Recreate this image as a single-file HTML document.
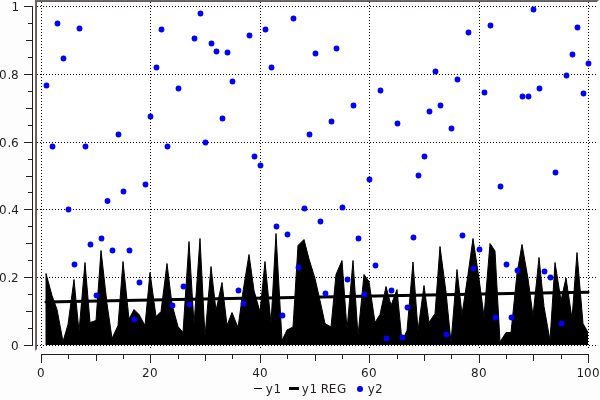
<!DOCTYPE html>
<html><head><meta charset="utf-8"><title>plot</title>
<style>html,body{margin:0;padding:0;background:#fdfdfd;overflow:hidden}svg{display:block}text{font-family:"DejaVu Sans","Liberation Sans",sans-serif;font-size:12px;fill:#221f1d}</style></head><body>
<svg width="600" height="400" viewBox="0 0 600 400">
<rect x="0" y="0" width="600" height="400" fill="#fdfdfd"/>
<rect x="35" y="0" width="563" height="351" fill="#ffffff"/>
<polygon points="35,0 599,0 598,1 36,1 36,350 35,351" fill="#6e6967"/>
<polygon points="36,1 598,1 597,2 37,2 37,349 36,350" fill="#625d5b"/>
<g stroke="#000" stroke-width="1" stroke-dasharray="1 2" shape-rendering="crispEdges">
<line x1="37" y1="345.5" x2="597" y2="345.5"/>
<line x1="37" y1="277.5" x2="597" y2="277.5"/>
<line x1="37" y1="209.5" x2="597" y2="209.5"/>
<line x1="37" y1="142.5" x2="597" y2="142.5"/>
<line x1="37" y1="74.5" x2="597" y2="74.5"/>
<line x1="37" y1="6.5" x2="597" y2="6.5"/>
<line x1="41.5" y1="2" x2="41.5" y2="349"/>
<line x1="150.5" y1="2" x2="150.5" y2="349"/>
<line x1="260.5" y1="2" x2="260.5" y2="349"/>
<line x1="369.5" y1="2" x2="369.5" y2="349"/>
<line x1="479.5" y1="2" x2="479.5" y2="349"/>
<line x1="588.5" y1="2" x2="588.5" y2="349"/>
</g>
<clipPath id="cp"><rect x="37" y="2" width="551" height="343"/></clipPath>
<polygon clip-path="url(#cp)" points="46.00,345.00 46.00,273.50 52.00,295.50 57.00,309.50 63.00,341.50 68.00,324.50 74.00,279.50 79.00,331.50 85.00,262.50 90.00,322.50 96.00,320.50 101.00,250.50 107.00,303.50 112.00,338.50 118.00,325.50 123.00,261.50 129.00,319.00 134.00,309.50 139.00,314.50 145.00,325.50 150.00,272.50 156.00,316.50 161.00,311.50 167.00,263.50 172.00,304.50 178.00,326.50 183.00,332.50 189.00,241.50 194.00,324.50 200.00,238.50 205.00,336.50 211.00,266.50 216.00,310.50 222.00,282.50 227.00,325.50 232.00,312.50 238.00,327.50 243.00,291.50 249.00,254.50 254.00,290.50 260.00,312.00 265.00,261.50 271.00,323.50 276.00,233.50 282.00,340.50 287.00,330.00 293.00,327.00 298.00,245.50 304.00,239.50 309.00,259.00 315.00,278.50 320.00,300.50 325.00,323.50 331.00,327.00 336.00,274.50 342.00,260.50 347.00,329.50 353.00,260.50 358.00,335.50 364.00,274.50 369.00,281.50 375.00,322.50 380.00,314.50 386.00,286.50 391.00,305.50 397.00,289.50 402.00,341.50 407.00,330.50 413.00,262.00 418.00,330.50 424.00,285.50 429.00,322.50 435.00,313.50 440.00,246.50 446.00,292.00 451.00,342.50 457.00,269.50 462.00,314.50 468.00,274.50 473.00,238.50 479.00,278.50 484.00,316.50 490.00,243.50 495.00,251.00 500.00,342.00 506.00,332.50 511.00,332.50 517.00,273.50 522.00,244.50 528.00,278.50 533.00,316.00 539.00,257.50 544.00,306.50 550.00,340.50 555.00,262.50 561.00,300.50 566.00,278.00 572.00,318.50 577.00,252.50 583.00,323.50 588.00,332.50 588.00,345.00" fill="#000" stroke="#000" stroke-width="1" stroke-linejoin="bevel"/>
<line x1="46.00" y1="301.90" x2="588.00" y2="292.15" stroke="#000" stroke-width="3" stroke-linecap="round"/>
<g fill="#0000ff">
<circle cx="46.50" cy="85.50" r="2.9"/>
<circle cx="52.50" cy="146.50" r="2.9"/>
<circle cx="57.50" cy="23.50" r="2.9"/>
<circle cx="63.50" cy="58.50" r="2.9"/>
<circle cx="68.50" cy="209.50" r="2.9"/>
<circle cx="74.50" cy="264.50" r="2.9"/>
<circle cx="79.50" cy="28.50" r="2.9"/>
<circle cx="85.50" cy="146.50" r="2.9"/>
<circle cx="90.50" cy="244.50" r="2.9"/>
<circle cx="96.50" cy="295.50" r="2.9"/>
<circle cx="101.50" cy="238.50" r="2.9"/>
<circle cx="107.50" cy="201.00" r="2.9"/>
<circle cx="112.50" cy="250.50" r="2.9"/>
<circle cx="118.50" cy="134.50" r="2.9"/>
<circle cx="123.50" cy="191.50" r="2.9"/>
<circle cx="129.50" cy="250.50" r="2.9"/>
<circle cx="134.50" cy="319.50" r="2.9"/>
<circle cx="139.50" cy="282.50" r="2.9"/>
<circle cx="145.50" cy="184.50" r="2.9"/>
<circle cx="150.50" cy="116.50" r="2.9"/>
<circle cx="156.50" cy="67.50" r="2.9"/>
<circle cx="161.50" cy="29.50" r="2.9"/>
<circle cx="167.50" cy="146.50" r="2.9"/>
<circle cx="172.50" cy="305.50" r="2.9"/>
<circle cx="178.50" cy="88.50" r="2.9"/>
<circle cx="183.50" cy="286.50" r="2.9"/>
<circle cx="189.50" cy="304.50" r="2.9"/>
<circle cx="194.50" cy="38.50" r="2.9"/>
<circle cx="200.50" cy="13.50" r="2.9"/>
<circle cx="205.50" cy="142.50" r="2.9"/>
<circle cx="211.50" cy="43.50" r="2.9"/>
<circle cx="216.50" cy="51.50" r="2.9"/>
<circle cx="222.50" cy="118.50" r="2.9"/>
<circle cx="227.50" cy="52.50" r="2.9"/>
<circle cx="232.50" cy="81.50" r="2.9"/>
<circle cx="238.50" cy="290.50" r="2.9"/>
<circle cx="243.50" cy="303.50" r="2.9"/>
<circle cx="249.50" cy="35.50" r="2.9"/>
<circle cx="254.50" cy="156.50" r="2.9"/>
<circle cx="260.50" cy="165.50" r="2.9"/>
<circle cx="265.50" cy="29.50" r="2.9"/>
<circle cx="271.50" cy="67.50" r="2.9"/>
<circle cx="276.50" cy="226.50" r="2.9"/>
<circle cx="282.50" cy="315.50" r="2.9"/>
<circle cx="287.50" cy="234.50" r="2.9"/>
<circle cx="293.50" cy="18.50" r="2.9"/>
<circle cx="298.50" cy="267.50" r="2.9"/>
<circle cx="304.50" cy="208.50" r="2.9"/>
<circle cx="309.50" cy="134.50" r="2.9"/>
<circle cx="315.50" cy="53.50" r="2.9"/>
<circle cx="320.50" cy="221.50" r="2.9"/>
<circle cx="325.50" cy="293.50" r="2.9"/>
<circle cx="331.50" cy="121.50" r="2.9"/>
<circle cx="336.50" cy="48.50" r="2.9"/>
<circle cx="342.50" cy="207.50" r="2.9"/>
<circle cx="347.50" cy="279.50" r="2.9"/>
<circle cx="353.50" cy="105.50" r="2.9"/>
<circle cx="358.50" cy="238.50" r="2.9"/>
<circle cx="364.50" cy="294.50" r="2.9"/>
<circle cx="369.50" cy="179.50" r="2.9"/>
<circle cx="375.50" cy="265.50" r="2.9"/>
<circle cx="380.50" cy="90.50" r="2.9"/>
<circle cx="386.50" cy="338.50" r="2.9"/>
<circle cx="391.50" cy="290.50" r="2.9"/>
<circle cx="397.50" cy="123.50" r="2.9"/>
<circle cx="402.50" cy="337.50" r="2.9"/>
<circle cx="407.50" cy="307.50" r="2.9"/>
<circle cx="413.50" cy="237.50" r="2.9"/>
<circle cx="418.50" cy="175.50" r="2.9"/>
<circle cx="424.50" cy="156.50" r="2.9"/>
<circle cx="429.50" cy="111.50" r="2.9"/>
<circle cx="435.50" cy="71.50" r="2.9"/>
<circle cx="440.50" cy="105.50" r="2.9"/>
<circle cx="446.50" cy="334.50" r="2.9"/>
<circle cx="451.50" cy="128.50" r="2.9"/>
<circle cx="457.50" cy="79.50" r="2.9"/>
<circle cx="462.50" cy="235.50" r="2.9"/>
<circle cx="468.50" cy="32.50" r="2.9"/>
<circle cx="473.50" cy="268.50" r="2.9"/>
<circle cx="479.50" cy="249.50" r="2.9"/>
<circle cx="484.50" cy="92.50" r="2.9"/>
<circle cx="490.50" cy="25.50" r="2.9"/>
<circle cx="495.50" cy="317.50" r="2.9"/>
<circle cx="500.50" cy="186.50" r="2.9"/>
<circle cx="506.50" cy="264.50" r="2.9"/>
<circle cx="511.50" cy="317.50" r="2.9"/>
<circle cx="517.50" cy="270.50" r="2.9"/>
<circle cx="522.50" cy="96.50" r="2.9"/>
<circle cx="528.50" cy="96.50" r="2.9"/>
<circle cx="533.50" cy="9.50" r="2.9"/>
<circle cx="539.50" cy="88.50" r="2.9"/>
<circle cx="544.50" cy="271.50" r="2.9"/>
<circle cx="550.50" cy="277.50" r="2.9"/>
<circle cx="555.50" cy="172.50" r="2.9"/>
<circle cx="561.50" cy="323.50" r="2.9"/>
<circle cx="566.50" cy="75.50" r="2.9"/>
<circle cx="572.50" cy="54.50" r="2.9"/>
<circle cx="577.50" cy="27.50" r="2.9"/>
<circle cx="583.50" cy="93.50" r="2.9"/>
<circle cx="588.50" cy="63.50" r="2.9"/>
</g>
<g stroke="#221f1d" stroke-width="1" shape-rendering="crispEdges">
<line x1="32.5" y1="6" x2="32.5" y2="346"/>
<line x1="24" y1="345.5" x2="33" y2="345.5"/>
<line x1="28" y1="328.5" x2="33" y2="328.5"/>
<line x1="26" y1="311.5" x2="33" y2="311.5"/>
<line x1="28" y1="294.5" x2="33" y2="294.5"/>
<line x1="24" y1="277.5" x2="33" y2="277.5"/>
<line x1="28" y1="260.5" x2="33" y2="260.5"/>
<line x1="26" y1="243.5" x2="33" y2="243.5"/>
<line x1="28" y1="226.5" x2="33" y2="226.5"/>
<line x1="24" y1="209.5" x2="33" y2="209.5"/>
<line x1="28" y1="192.5" x2="33" y2="192.5"/>
<line x1="26" y1="176.5" x2="33" y2="176.5"/>
<line x1="28" y1="159.5" x2="33" y2="159.5"/>
<line x1="24" y1="142.5" x2="33" y2="142.5"/>
<line x1="28" y1="125.5" x2="33" y2="125.5"/>
<line x1="26" y1="108.5" x2="33" y2="108.5"/>
<line x1="28" y1="91.5" x2="33" y2="91.5"/>
<line x1="24" y1="74.5" x2="33" y2="74.5"/>
<line x1="28" y1="57.5" x2="33" y2="57.5"/>
<line x1="26" y1="40.5" x2="33" y2="40.5"/>
<line x1="28" y1="23.5" x2="33" y2="23.5"/>
<line x1="24" y1="6.5" x2="33" y2="6.5"/>
<line x1="41" y1="354.5" x2="589" y2="354.5"/>
<line x1="41.5" y1="354" x2="41.5" y2="363"/>
<line x1="68.5" y1="354" x2="68.5" y2="359"/>
<line x1="96.5" y1="354" x2="96.5" y2="361"/>
<line x1="123.5" y1="354" x2="123.5" y2="359"/>
<line x1="150.5" y1="354" x2="150.5" y2="363"/>
<line x1="178.5" y1="354" x2="178.5" y2="359"/>
<line x1="205.5" y1="354" x2="205.5" y2="361"/>
<line x1="232.5" y1="354" x2="232.5" y2="359"/>
<line x1="260.5" y1="354" x2="260.5" y2="363"/>
<line x1="287.5" y1="354" x2="287.5" y2="359"/>
<line x1="315.5" y1="354" x2="315.5" y2="361"/>
<line x1="342.5" y1="354" x2="342.5" y2="359"/>
<line x1="369.5" y1="354" x2="369.5" y2="363"/>
<line x1="397.5" y1="354" x2="397.5" y2="359"/>
<line x1="424.5" y1="354" x2="424.5" y2="361"/>
<line x1="451.5" y1="354" x2="451.5" y2="359"/>
<line x1="479.5" y1="354" x2="479.5" y2="363"/>
<line x1="506.5" y1="354" x2="506.5" y2="359"/>
<line x1="533.5" y1="354" x2="533.5" y2="361"/>
<line x1="561.5" y1="354" x2="561.5" y2="359"/>
<line x1="588.5" y1="354" x2="588.5" y2="363"/>
</g>
<text x="11" y="350">0</text>
<text x="-1 7.5 11" y="282">0.2</text>
<text x="-1 7.5 11.25" y="214">0.4</text>
<text x="-1 7.5 11" y="147">0.6</text>
<text x="-1 7.5 11" y="79">0.8</text>
<text x="11.5" y="11">1</text>
<text x="37" y="377">0</text>
<text x="142 150" y="377">20</text>
<text x="252.25 260" y="377">40</text>
<text x="361 369" y="377">60</text>
<text x="471 479" y="377">80</text>
<text x="576.5 584 592" y="377">100</text>
<rect x="254" y="388" width="8" height="1" fill="#000" shape-rendering="crispEdges"/>
<text x="265.75 273.5" y="393">y1</text>
<rect x="289" y="387" width="10" height="3" fill="#000" shape-rendering="crispEdges"/>
<text x="301.75 309.5 317 320.75 328.75 337" y="393">y1 REG</text>
<circle cx="360" cy="389" r="3" fill="#0000ff"/>
<text x="367.75 375" y="393">y2</text>
</svg></body></html>
